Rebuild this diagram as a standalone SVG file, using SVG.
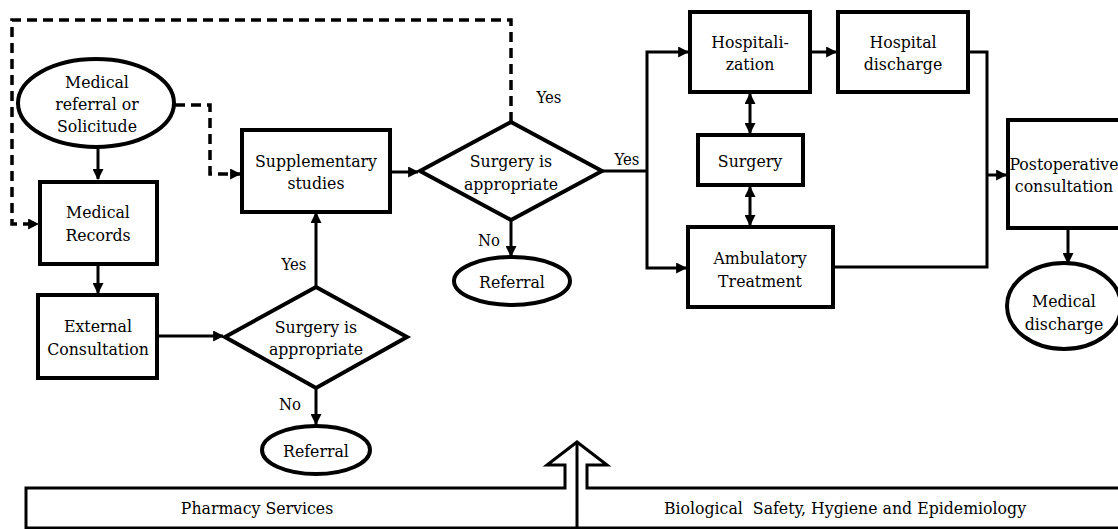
<svg xmlns="http://www.w3.org/2000/svg" width="1118" height="529" viewBox="0 0 1118 529">
<style>
.box{fill:#fff;stroke:#000;stroke-width:4}
.conn{fill:none;stroke:#000;stroke-width:3}
.dash{fill:none;stroke:#000;stroke-width:3.5;stroke-dasharray:10 6}
.band{fill:none;stroke:#000;stroke-width:3}
.t text{font-family:"DejaVu Serif Condensed","DejaVu Serif",serif;font-stretch:condensed;font-size:17.5px;fill:#000;text-anchor:middle}
.t text.lbl{font-size:16.5px}
</style>
<defs>
<marker id="ah" viewBox="0 0 10 10" refX="9" refY="5" markerWidth="11" markerHeight="11" markerUnits="userSpaceOnUse" orient="auto-start-reverse">
<path d="M0,0 L10,5 L0,10 z" fill="#000"/>
</marker>
</defs>
<rect width="1118" height="529" fill="#fff"/>

<g id="connectors">
<path class="dash" d="M511,122 V20 H12 V224 H38" marker-end="url(#ah)"/>
<path class="dash" d="M175,105 H210 V174 H240" marker-end="url(#ah)"/>
<path class="conn" d="M98,147 V179" marker-end="url(#ah)"/>
<path class="conn" d="M98,264 V293" marker-end="url(#ah)"/>
<path class="conn" d="M157,336 H223" marker-end="url(#ah)"/>
<path class="conn" d="M316,287 V213" marker-end="url(#ah)"/>
<path class="conn" d="M316,388 V424" marker-end="url(#ah)"/>
<path class="conn" d="M390,172 H418" marker-end="url(#ah)"/>
<path class="conn" d="M511,220 V256" marker-end="url(#ah)"/>
<path class="conn" d="M602,171 H647"/>
<path class="conn" d="M647,171 V52 H688" marker-end="url(#ah)"/>
<path class="conn" d="M647,171 V268 H686" marker-end="url(#ah)"/>
<path class="conn" d="M750,94 V133" marker-start="url(#ah)" marker-end="url(#ah)"/>
<path class="conn" d="M750,187 V225" marker-start="url(#ah)" marker-end="url(#ah)"/>
<path class="conn" d="M810,52 H836" marker-end="url(#ah)"/>
<path class="conn" d="M968,52 H987 V267 H833"/>
<path class="conn" d="M987,175 H1006" marker-end="url(#ah)"/>
<path class="conn" d="M1068,228 V263" marker-end="url(#ah)"/>
</g>

<g id="n-referral-solicitude" class="t">
<ellipse class="box" cx="96" cy="103" rx="78" ry="44"/>
<text x="97" y="88">Medical</text>
<text x="97" y="110">referral or</text>
<text x="97" y="132">Solicitude</text>
</g>
<g id="n-medical-records" class="t">
<rect class="box" x="40" y="182" width="117" height="82"/>
<text x="98" y="218">Medical</text>
<text x="98" y="241">Records</text>
</g>
<g id="n-external" class="t">
<rect class="box" x="38" y="295" width="119" height="83"/>
<text x="98" y="332">External</text>
<text x="98" y="355">Consultation</text>
</g>
<g id="n-supplementary" class="t">
<rect class="box" x="242" y="130" width="148" height="82"/>
<text x="316" y="167">Supplementary</text>
<text x="316" y="189">studies</text>
</g>
<g id="n-decision2" class="t">
<polygon class="box" points="316,287 407,337 316,388 225,337"/>
<text x="316" y="333">Surgery is</text>
<text x="316" y="355">appropriate</text>
</g>
<g id="n-referral2" class="t">
<ellipse class="box" cx="316" cy="450" rx="54" ry="24"/>
<text x="316" y="457">Referral</text>
</g>
<g id="n-decision1" class="t">
<polygon class="box" points="511,122 602,171 511,220 420,171"/>
<text x="511" y="167">Surgery is</text>
<text x="511" y="190">appropriate</text>
</g>
<g id="n-referral1" class="t">
<ellipse class="box" cx="512" cy="281" rx="58" ry="24"/>
<text x="512" y="288">Referral</text>
</g>
<g id="n-hospitalization" class="t">
<rect class="box" x="690" y="12" width="120" height="80"/>
<text x="750" y="48">Hospitali-</text>
<text x="750" y="70">zation</text>
</g>
<g id="n-hospital-discharge" class="t">
<rect class="box" x="838" y="12" width="130" height="80"/>
<text x="903" y="48">Hospital</text>
<text x="903" y="70">discharge</text>
</g>
<g id="n-surgery" class="t">
<rect class="box" x="698" y="135" width="105" height="50"/>
<text x="750" y="167">Surgery</text>
</g>
<g id="n-ambulatory" class="t">
<rect class="box" x="688" y="227" width="145" height="80"/>
<text x="760" y="264">Ambulatory</text>
<text x="760" y="287">Treatment</text>
</g>
<g id="n-postoperative" class="t">
<rect class="box" x="1008" y="120" width="114" height="108"/>
<text x="1064" y="170">Postoperative</text>
<text x="1064" y="192">consultation</text>
</g>
<g id="n-medical-discharge" class="t">
<ellipse class="box" cx="1064" cy="306" rx="57" ry="43"/>
<text x="1064" y="307">Medical</text>
<text x="1064" y="330">discharge</text>
</g>

<g id="labels" class="t">
<text class="lbl" x="549" y="103">Yes</text>
<text class="lbl" x="627" y="165">Yes</text>
<text class="lbl" x="294" y="270">Yes</text>
<text class="lbl" x="489" y="246">No</text>
<text class="lbl" x="290" y="410">No</text>
</g>

<g id="support-band" class="t">
<path class="band" d="M26,529 V488 H565 V465 H547 L577,442 L607,465 H587 V488 H1120"/>
<path class="band" d="M26,528 H1120"/>
<path class="band" d="M577,442 V529"/>
<text x="257" y="514">Pharmacy Services</text>
<text x="845" y="514" xml:space="preserve">Biological  Safety, Hygiene and Epidemiology</text>
</g>
</svg>
